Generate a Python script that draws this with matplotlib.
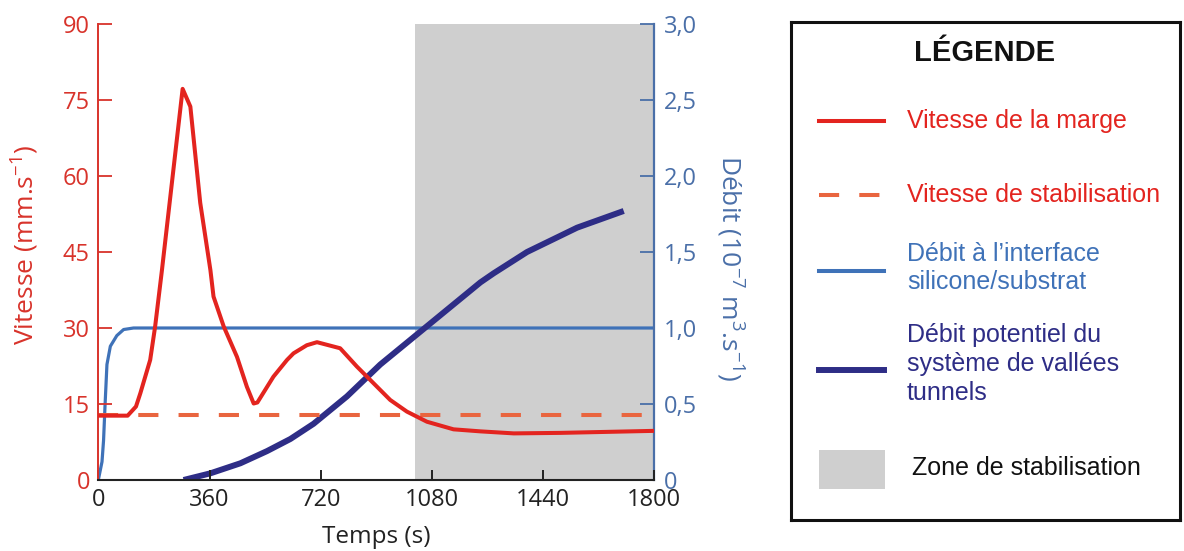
import matplotlib
matplotlib.use("Agg")
import matplotlib.pyplot as plt
from matplotlib.patches import Rectangle

plt.rcParams["font.family"] = ["Open Sans", "DejaVu Sans"]
plt.rcParams["mathtext.default"] = "regular"

# vitesse de la marge (mm/s) vs temps (s)
t_marge = [0, 95, 122, 136, 168, 184, 206, 273, 298, 330, 363, 373, 406, 449, 481,
           503, 515, 567, 611, 632, 675, 708, 783, 837, 891, 945, 999, 1064, 1150,
           1237, 1345, 1496, 1800]
v_marge = [12.7, 12.7, 14.5, 17.1, 23.7, 30.3, 41.4, 77.2, 73.7, 54.7, 41.4, 36.2,
           30.3, 24.3, 18.4, 15.1, 15.3, 20.4, 23.7, 25.0, 26.6, 27.2, 26.0, 22.4,
           19.1, 15.8, 13.5, 11.5, 10.0, 9.6, 9.2, 9.3, 9.7]

# vitesse de stabilisation
t_stab = [0, 1800]
v_stab = [12.8, 12.8]

# debit a l'interface silicone/substrat (1e-7 m3/s)
t_interface = [0, 12, 17, 22, 28, 39, 60, 82, 114, 1800]
d_interface = [0, 0.12, 0.26, 0.5, 0.76, 0.88, 0.95, 0.99, 1.0, 1.0]

# debit potentiel du systeme de vallees tunnels
t_potentiel = [276, 363, 460, 546, 622, 697, 805, 913, 1021, 1129, 1237, 1280, 1388, 1550, 1701]
d_potentiel = [0, 0.044, 0.11, 0.19, 0.27, 0.37, 0.55, 0.76, 0.94, 1.12, 1.30, 1.36, 1.5, 1.66, 1.77]

zone_debut, zone_fin = 1026, 1800

x_ticks = [0, 360, 720, 1080, 1440, 1800]
v_ticks = [0, 15, 30, 45, 60, 75, 90]
d_ticks = [0, 0.5, 1.0, 1.5, 2.0, 2.5, 3.0]
d_ticklabels = ["0", "0,5", "1,0", "1,5", "2,0", "2,5", "3,0"]

RED = "#e3241f"
RED_AX = "#d8332b"
ORANGE = "#e9653f"
BLUE = "#3f72b8"
BLUE_AX = "#4a6fa8"
NAVY = "#2e2d86"
GREY = "#cfcfcf"

fig = plt.figure(figsize=(11.84, 5.51), dpi=100)
ax = fig.add_axes([98.3 / 1184, 71 / 551, 556 / 1184, 456 / 551])
ax2 = ax.twinx()

# debit axis drawn underneath, vitesse axis on top
ax.set_zorder(ax2.get_zorder() + 1)
ax.patch.set_visible(False)

ax2.axvspan(zone_debut, zone_fin, color=GREY, lw=0, zorder=0)
ax2.plot(t_interface, d_interface, color=BLUE, lw=2.3, zorder=2)
ax2.plot(t_potentiel, d_potentiel, color=NAVY, lw=4.3, solid_capstyle="butt", zorder=3)
ax.plot(t_stab, v_stab, color=ORANGE, lw=2.9, dashes=(5, 5), zorder=2)
ax.plot(t_marge, v_marge, color=RED, lw=2.9, zorder=3)

ax.set_xlim(0, 1800)
ax.set_ylim(0, 90)
ax2.set_ylim(0, 3.0)
ax.set_xticks(x_ticks)
ax.set_yticks(v_ticks)
ax2.set_yticks(d_ticks)
ax2.set_yticklabels(d_ticklabels)

for a in (ax, ax2):
    a.spines["top"].set_visible(False)
ax.spines["right"].set_visible(False)
ax2.spines["left"].set_visible(False)
ax2.spines["bottom"].set_visible(False)
ax.spines["left"].set_color(RED_AX)
ax.spines["left"].set_linewidth(1.4)
ax.spines["bottom"].set_color("#222222")
ax.spines["bottom"].set_linewidth(1.5)
ax2.spines["right"].set_color(BLUE_AX)
ax2.spines["right"].set_linewidth(1.6)

ax.tick_params(axis="y", direction="in", length=10, width=1.3, colors=RED_AX,
               labelsize=17, pad=6)
ax.tick_params(axis="x", direction="in", length=7, width=1.4, colors="#222222",
               labelsize=17, pad=6)
ax2.tick_params(axis="y", direction="in", length=10, width=1.3, colors=BLUE_AX,
                labelsize=17, pad=7)

ax.set_xlabel("Temps (s)", fontsize=17.5, color="#222222")
ax.xaxis.set_label_coords(0.5, -0.125)
ax.xaxis.label.set_va("center")

ax.set_ylabel("Vitesse (mm.s$^{-1}$)", fontsize=19, color=RED_AX)
ax.yaxis.set_label_coords(-0.131, 0.515)
ax.yaxis.label.set_va("center")

ax2.set_ylabel("Débit (10$^{-7}$ m$^{3}$.s$^{-1}$)", fontsize=19, color=BLUE_AX, rotation=270)
ax2.yaxis.set_label_coords(1.136, 0.465)
ax2.yaxis.label.set_va("center")

# legend box drawn by hand (pixel offsets inside the box)
leg = fig.add_axes([791 / 1184, 31 / 551, 389 / 1184, 498 / 551])
leg.set_xlim(0, 389)
leg.set_ylim(498, 0)
leg.set_xticks([])
leg.set_yticks([])
for s in leg.spines.values():
    s.set_linewidth(2.2)
    s.set_color("#111111")

lf = ["Liberation Sans", "DejaVu Sans"]
leg.text(194, 31, "LÉGENDE", family=lf, fontsize=21, fontweight="bold",
         ha="center", va="center", color="#111111")

leg.plot([28, 93], [99.5, 99.5], color=RED, lw=2.9)
leg.text(116, 99, "Vitesse de la marge", family=lf, fontsize=18, color=RED,
         ha="left", va="center")

leg.plot([28, 93], [173, 173], color=ORANGE, lw=2.9, dashes=(5, 5))
leg.text(116, 173, "Vitesse de stabilisation", family=lf, fontsize=18, color=RED,
         ha="left", va="center")

leg.plot([28, 93], [249, 249], color=BLUE, lw=2.9)
leg.text(116, 246, "Débit à l’interface\nsilicone/substrat", family=lf, fontsize=18,
         color=BLUE, ha="left", va="center", linespacing=1.25)

leg.plot([28, 93], [348, 348], color=NAVY, lw=4.3)
leg.text(116, 342, "Débit potentiel du\nsystème de vallées\ntunnels", family=lf,
         fontsize=18, color=NAVY, ha="left", va="center", linespacing=1.25)

leg.add_patch(Rectangle((28, 428), 66, 39, color=GREY, lw=0))
leg.text(121, 446, "Zone de stabilisation", family=lf, fontsize=18, color="#111111",
         ha="left", va="center")

fig.savefig("out.png", dpi=100)
